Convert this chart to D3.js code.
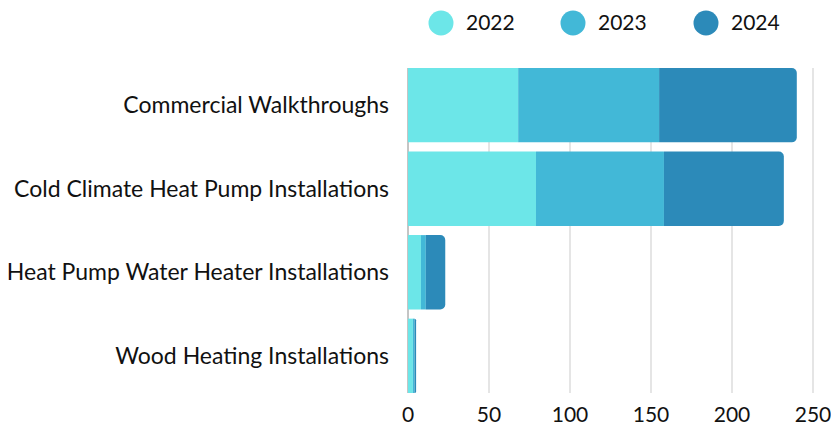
<!DOCTYPE html>
<html>
<head>
<meta charset="utf-8">
<script src="https://cdn.jsdelivr.net/npm/d3@7"></script>
<style>
  body { margin: 0; background: #fff; }
  text { font-family: Lato, "Open Sans", sans-serif; fill: #111; }
</style>
</head>
<body>
<div id="chart"></div>
<script>
// Chart values
const categories = [
    "Commercial Walkthroughs",
    "Cold Climate Heat Pump Installations",
    "Heat Pump Water Heater Installations",
    "Wood Heating Installations"
];
const years = ["2022", "2023", "2024"];
const values2022 = [68, 79, 8, 3];
const values2023 = [87, 79, 3, 1];
const values2024 = [85, 74, 12, 1];
const xTicks = [0, 50, 100, 150, 200, 250];

const colors = ["#6ce6e8", "#42b8d7", "#2c8ab9"];

const W = 831, H = 427;
const margin = { top: 68, right: 18, bottom: 34, left: 408 };

const svg = d3.select("#chart")
    .append("svg")
    .attr("width", W)
    .attr("height", H);

// build rows for stacking
const rows = categories.map((c, i) => ({
    cat: c,
    "2022": values2022[i],
    "2023": values2023[i],
    "2024": values2024[i]
}));
const series = d3.stack().keys(years)(rows);

const x = d3.scaleLinear()
    .domain([0, 250])
    .range([margin.left, 813]);

const y = d3.scaleBand()
    .domain(categories)
    .range([margin.top, H - margin.bottom])
    .paddingInner(0.11)
    .paddingOuter(0);

// Gridlines
svg.append("g")
    .selectAll("line")
    .data(xTicks.filter(d => d > 0))
    .join("line")
    .attr("x1", d => x(d))
    .attr("x2", d => x(d))
    .attr("y1", margin.top)
    .attr("y2", H - margin.bottom)
    .attr("stroke", "#d4d4d4")
    .attr("stroke-width", 1.2);

// left axis line
svg.append("line")
    .attr("x1", x(0)).attr("x2", x(0))
    .attr("y1", margin.top).attr("y2", H - margin.bottom)
    .attr("stroke", "#8a8a8a")
    .attr("stroke-width", 1);

// path for a segment, right corners rounded on the last one
function segPath(x0, x1, y0, h, r) {
    const w = x1 - x0;
    r = Math.min(r, w, h / 2);
    if (r <= 0) return `M${x0},${y0}h${w}v${h}h${-w}Z`;
    return `M${x0},${y0}h${w - r}a${r},${r} 0 0 1 ${r},${r}v${h - 2 * r}a${r},${r} 0 0 1 ${-r},${r}h${-(w - r)}Z`;
}

series.forEach((s, si) => {
    svg.append("g")
        .attr("fill", colors[si])
        .selectAll("path")
        .data(s)
        .join("path")
        .attr("d", d => segPath(x(d[0]), x(d[1]), y(d.data.cat), y.bandwidth(),
            si === series.length - 1 ? 5 : 0));
});

// Category labels
svg.append("g")
    .selectAll("text")
    .data(categories)
    .join("text")
    .attr("x", 389)
    .attr("y", d => y(d) + y.bandwidth() / 2)
    .attr("dy", "0.35em")
    .attr("text-anchor", "end")
    .style("font-size", "23px")
    .text(d => d);

// x axis labels
svg.append("g")
    .selectAll("text")
    .data(xTicks)
    .join("text")
    .attr("x", d => x(d))
    .attr("y", 415)
    .attr("dy", "0.35em")
    .attr("text-anchor", "middle")
    .style("font-size", "21px")
    .text(d => d);

// Legend
const legendX = [441, 573, 706];
const legend = svg.append("g");
years.forEach((yr, i) => {
    legend.append("circle")
        .attr("cx", legendX[i])
        .attr("cy", 23)
        .attr("r", 12.5)
        .attr("fill", colors[i]);
    legend.append("text")
        .attr("x", legendX[i] + 25)
        .attr("y", 23)
        .attr("dy", "0.35em")
        .style("font-size", "21px")
        .text(yr);
});
</script>
</body>
</html>
